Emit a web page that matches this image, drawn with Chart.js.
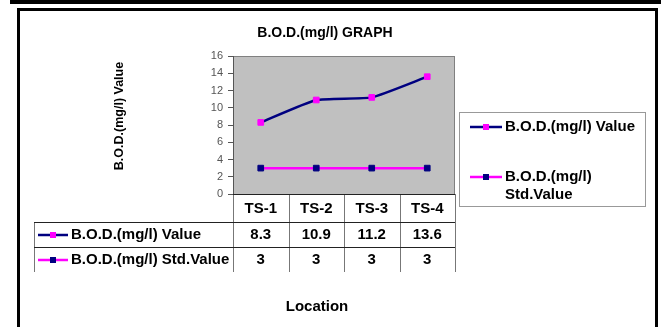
<!DOCTYPE html>
<html lang="en">
<head>
<meta charset="UTF-8">
<title>B.O.D.(mg/l) Graph</title>
<script src="https://cdn.jsdelivr.net/npm/chart.js"></script>
<style>
    html, body { margin: 0; padding: 0; background: #fff; }
    canvas { display: block; }
</style>
</head>
<body>
<canvas id="bodChart" width="667" height="327"></canvas>
<script>
// chart data
const locations = ['TS-1', 'TS-2', 'TS-3', 'TS-4'];
const bodValues = [8.3, 10.9, 11.2, 13.6];
const bodStdValues = [3, 3, 3, 3];
const seriesNames = ['B.O.D.(mg/l) Value', 'B.O.D.(mg/l) Std.Value'];
const yMin = 0, yMax = 16, yStep = 2;

const NAVY = '#000080';
const MAGENTA = '#ff00ff';
const FONT = '"Liberation Sans", Arial, sans-serif';

// small line + square marker, like the excel legend key
function drawKey(ctx, x1, x2, y, lineColor, markColor) {
    ctx.save();
    ctx.strokeStyle = lineColor;
    ctx.lineWidth = 2.5;
    ctx.beginPath();
    ctx.moveTo(x1, y);
    ctx.lineTo(x2, y);
    ctx.stroke();
    ctx.fillStyle = markColor;
    const mx = (x1 + x2) / 2;
    ctx.fillRect(mx - 3, y - 3, 6, 6);
    ctx.restore();
}

const extras = {
    id: 'extras',
    beforeDraw(chart) {
        const ctx = chart.ctx;
        const a = chart.chartArea;
        ctx.save();
        ctx.fillStyle = '#fff';
        ctx.fillRect(0, 0, chart.width, chart.height);

        // black bar on top + frame round the chart
        ctx.fillStyle = '#000';
        ctx.fillRect(10, 0, 651, 4);
        ctx.strokeStyle = '#000';
        ctx.lineWidth = 3;
        ctx.strokeRect(18.5, 9.5, 638, 330);

        // grey plot area
        ctx.fillStyle = '#c0c0c0';
        ctx.fillRect(a.left, a.top, a.right - a.left, a.bottom - a.top);
        ctx.strokeStyle = '#808080';
        ctx.lineWidth = 1;
        ctx.strokeRect(a.left + 0.5, a.top + 0.5, a.right - a.left - 1, a.bottom - a.top);
        ctx.restore();
    },
    afterDraw(chart) {
        const ctx = chart.ctx;
        const a = chart.chartArea;
        const xs = chart.scales.x;
        const sets = chart.data.datasets;
        ctx.save();

        // title
        ctx.fillStyle = '#000';
        ctx.font = 'bold 14px ' + FONT;
        ctx.textAlign = 'center';
        ctx.textBaseline = 'middle';
        ctx.fillText('B.O.D.(mg/l) GRAPH', 325, 33);

        // y axis title
        ctx.save();
        ctx.translate(120, 116);
        ctx.rotate(-Math.PI / 2);
        ctx.font = 'bold 12.5px ' + FONT;
        ctx.fillText(seriesNames[0], 0, 0);
        ctx.restore();

        // x axis title
        ctx.font = 'bold 15px ' + FONT;
        ctx.fillText('Location', 317, 307);

        // data table under the plot
        const half = (xs.getPixelForValue(1) - xs.getPixelForValue(0)) / 2;
        const bounds = [a.left];
        locations.forEach((c, i) => bounds.push(xs.getPixelForValue(i) + half));
        const tableLeft = 34;
        const headTop = a.bottom, row1 = headTop + 28, row2 = row1 + 25, tableBottom = row2 + 25;

        ctx.lineWidth = 1;
        ctx.strokeStyle = '#777';
        bounds.forEach(x => {
            ctx.beginPath();
            ctx.moveTo(Math.round(x) + 0.5, headTop);
            ctx.lineTo(Math.round(x) + 0.5, tableBottom);
            ctx.stroke();
        });
        ctx.beginPath();
        ctx.moveTo(tableLeft + 0.5, row1);
        ctx.lineTo(tableLeft + 0.5, tableBottom);
        ctx.stroke();

        ctx.strokeStyle = '#222';
        [row1, row2].forEach(y => {
            ctx.beginPath();
            ctx.moveTo(tableLeft, y + 0.5);
            ctx.lineTo(a.right, y + 0.5);
            ctx.stroke();
        });
        ctx.beginPath();
        ctx.moveTo(a.left, a.bottom + 0.5);
        ctx.lineTo(a.right, a.bottom + 0.5);
        ctx.stroke();

        ctx.fillStyle = '#000';
        ctx.font = 'bold 15px ' + FONT;
        ctx.textAlign = 'center';
        locations.forEach((c, i) => ctx.fillText(c, xs.getPixelForValue(i), headTop + 15));

        [row1, row2].forEach((top, r) => {
            const cy = top + 13;
            const ds = sets[r];
            drawKey(ctx, 38, 68, cy, ds.borderColor, ds.pointBackgroundColor);
            ctx.fillStyle = '#000';
            ctx.textAlign = 'left';
            ctx.fillText(ds.label, 71, cy);
            ctx.textAlign = 'center';
            ds.data.forEach((v, i) => ctx.fillText(String(v), xs.getPixelForValue(i), cy));
        });

        // legend box on the right
        ctx.fillStyle = '#fff';
        ctx.fillRect(459, 112, 187, 95);
        ctx.strokeStyle = '#999';
        ctx.strokeRect(459.5, 112.5, 186, 94);
        const legendY = [127, 177];
        sets.forEach((ds, i) => {
            drawKey(ctx, 470, 502, legendY[i], ds.borderColor, ds.pointBackgroundColor);
            ctx.fillStyle = '#000';
            ctx.textAlign = 'left';
            let lines = [ds.label];
            if (ctx.measureText(ds.label).width > 138) {
                const cut = ds.label.lastIndexOf(' ');
                lines = [ds.label.slice(0, cut), ds.label.slice(cut + 1)];
            }
            lines.forEach((t, k) => ctx.fillText(t, 505, legendY[i] + k * 18));
        });
        ctx.restore();
    }
};

new Chart(document.getElementById('bodChart'), {
    type: 'line',
    data: {
        labels: locations,
        datasets: [
            {
                label: seriesNames[0],
                data: bodValues,
                borderColor: NAVY,
                borderWidth: 2.5,
                pointStyle: 'rect',
                pointRadius: 4,
                pointBorderWidth: 1,
                pointBackgroundColor: MAGENTA,
                pointBorderColor: MAGENTA,
                tension: 0.15
            },
            {
                label: seriesNames[1],
                data: bodStdValues,
                borderColor: MAGENTA,
                borderWidth: 2.5,
                pointStyle: 'rect',
                pointRadius: 4,
                pointBorderWidth: 1,
                pointBackgroundColor: NAVY,
                pointBorderColor: NAVY
            }
        ]
    },
    options: {
        responsive: false,
        animation: false,
        layout: { padding: { left: 193, top: 56, right: 212, bottom: 133 } },
        plugins: {
            legend: { display: false },
            title: { display: false },
            tooltip: { enabled: false }
        },
        scales: {
            x: {
                type: 'category',
                offset: true,
                display: false
            },
            y: {
                min: yMin,
                max: yMax,
                afterFit: s => { s.width = 40; },
                ticks: {
                    stepSize: yStep,
                    padding: 5,
                    color: '#555',
                    font: { family: FONT, size: 11 }
                },
                grid: {
                    drawOnChartArea: false,
                    drawTicks: true,
                    tickLength: 5,
                    color: '#555'
                },
                border: { display: true, color: '#555', width: 1 }
            }
        }
    },
    plugins: [extras]
});
</script>
</body>
</html>
